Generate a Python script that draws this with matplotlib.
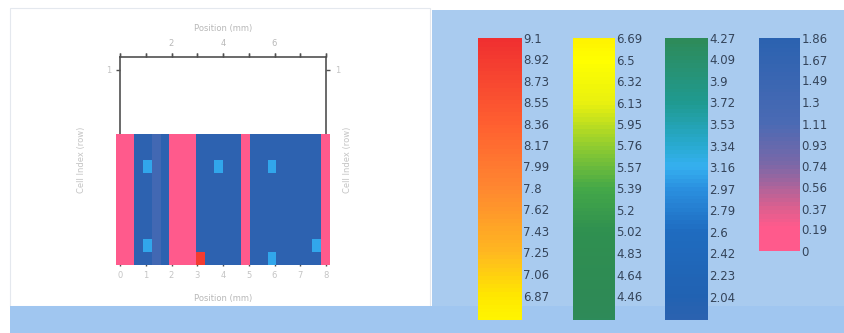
import numpy as np
import matplotlib
matplotlib.use('Agg')
import matplotlib.pyplot as plt
from matplotlib.colors import LinearSegmentedColormap, Normalize
from matplotlib.patches import Rectangle
import matplotlib as mpl

# data ---------------------------------------------------------------
# colour scale stops (value, colour) of the one long palette
scale_vals = [0.0, 0.19, 0.37, 0.74, 1.11, 1.86, 2.04, 2.6, 2.97, 3.16, 3.34,
              3.72, 4.27, 4.46, 5.02, 5.39, 5.76, 6.13, 6.5, 6.87, 7.25, 7.8,
              8.36, 9.1]
scale_cols = ['#ff5a8c', '#ff5a8c', '#d9608f', '#7a68a8', '#4a6ab4', '#2a62b0',
              '#2162b2', '#1f6cc0', '#2a90e0', '#35b0f0', '#28aad0', '#1f9a90',
              '#2e8a58', '#2e8a55', '#2f9050', '#44a848', '#90cc30', '#e8f010',
              '#ffff00', '#ffe800', '#ffb820', '#ff8830', '#ff6030', '#f03030']

# the four colour bars: value range shown and tick labels
bar_ranges = [(6.66, 9.1), (4.25, 6.69), (1.84, 4.27), (0.0, 1.86)]
bar1_ticks = ['9.1', '8.92', '8.73', '8.55', '8.36', '8.17', '7.99', '7.8',
              '7.62', '7.43', '7.25', '7.06', '6.87']
bar2_ticks = ['6.69', '6.5', '6.32', '6.13', '5.95', '5.76', '5.57', '5.39',
              '5.2', '5.02', '4.83', '4.64', '4.46']
bar3_ticks = ['4.27', '4.09', '3.9', '3.72', '3.53', '3.34', '3.16', '2.97',
              '2.79', '2.6', '2.42', '2.23', '2.04']
bar4_ticks = ['1.86', '1.67', '1.49', '1.3', '1.11', '0.93', '0.74', '0.56',
              '0.37', '0.19', '0']

# heat map cells, top row first (codes -> values)
codes = {'P': 0.1, 'B': 1.8, 'D': 1.3, 'L': 3.1, 'R': 8.9}
grid_rows = [
    "PPBBDBPPPBBBBBPBBBBBBBBP",
    "PPBBDBPPPBBBBBPBBBBBBBBP",
    "PPBLDBPPPBBLBBPBBLBBBBBP",
    "PPBBDBPPPBBBBBPBBBBBBBBP",
    "PPBBDBPPPBBBBBPBBBBBBBBP",
    "PPBBDBPPPBBBBBPBBBBBBBBP",
    "PPBBDBPPPBBBBBPBBBBBBBBP",
    "PPBBDBPPPBBBBBPBBBBBBBBP",
    "PPBLDBPPPBBBBBPBBBBBBBLP",
    "PPBBDBPPPRBBBBPBBLBBBBBP",
]
x_ticks = [0, 1, 2, 3, 4, 5, 6, 7, 8]
x_ticklabels = ['0', '1', '2', '3', '4', '5', '6', '7', '8']
top_ticklabels = ['', '', '2', '', '4', '', '6', '', '']

# figure -------------------------------------------------------------
W, H = 844, 333
fig = plt.figure(figsize=(W / 100, H / 100), dpi=100)
fig.patch.set_facecolor('white')

def px(x0, y0, x1, y1):
    # pixel box (top-left origin) -> figure rect
    return [x0 / W, 1 - y1 / H, (x1 - x0) / W, (y1 - y0) / H]

def add_rect(x0, y0, x1, y1, fc, ec='none'):
    r = px(x0, y0, x1, y1)
    fig.patches.append(Rectangle((r[0], r[1]), r[2], r[3], transform=fig.transFigure,
                                 facecolor=fc, edgecolor=ec, lw=0.8, zorder=-10))

# background panels
add_rect(10, 8, 430, 306, 'white', ec='#e4e8ee')
add_rect(432, 10, 844, 312, '#a9cbef')
add_rect(10, 306, 844, 333, '#a0c6f0')

cmap = LinearSegmentedColormap.from_list(
    'pal', [(v / 9.1, c) for v, c in zip(scale_vals, scale_cols)])
norm = Normalize(0, 9.1)

# heat map
grid = np.array([[codes[c] for c in row] for row in grid_rows])
ax = fig.add_axes(px(120, 57, 326, 262))
ax.set_xlim(0, 8)
ax.set_ylim(0, 1.6)
ax.imshow(grid, cmap=cmap, norm=norm, aspect='auto', interpolation='nearest',
          extent=(-0.15, 8.15, -0.02, 1.0), clip_on=False, zorder=3)
for s in ['left', 'right', 'top']:
    ax.spines[s].set_color('#505050')
    ax.spines[s].set_linewidth(1.2)
ax.spines['bottom'].set_visible(False)
ax.set_xticks(x_ticks)
ax.set_xticklabels(x_ticklabels)
ax.set_yticks([1.5])
ax.set_yticklabels(['1'])
ax.tick_params(axis='both', colors='#505050', labelcolor='#c4c4c4', labelsize=6,
               direction='out', length=3, width=1,
               top=True, right=True, labelright=True)
tx = ax.secondary_xaxis('top')
tx.set_xticks(x_ticks)
tx.set_xticklabels(top_ticklabels)
tx.tick_params(colors='#505050', labelcolor='#b8b8b8', labelsize=6, length=3, width=1)
tx.spines['top'].set_visible(False)
tx.set_xlabel('Position (mm)', fontsize=6, color='#b8b8b8', labelpad=6)
ax.set_xlabel('Position (mm)', fontsize=6, color='#b8b8b8', labelpad=10)
ax.set_ylabel('Cell Index (row)', fontsize=6, color='#c4c4c4', labelpad=14)
ry = ax.secondary_yaxis('right')
ry.set_yticks([])
ry.spines['right'].set_visible(False)
ry.set_ylabel('Cell Index (row)', fontsize=6, color='#c4c4c4', labelpad=12)

# colour bars: each shows one slice of the same palette
bar_boxes = [(478, 38, 522, 320), (573, 38, 615, 320), (665, 38, 708, 320),
             (759, 38, 800, 251)]
bar_labels = [bar1_ticks, bar2_ticks, bar3_ticks, bar4_ticks]
for (lo, hi), box, labels in zip(bar_ranges, bar_boxes, bar_labels):
    cax = fig.add_axes(px(*box))
    part = LinearSegmentedColormap.from_list(
        'part', cmap(np.linspace(lo / 9.1, hi / 9.1, 256)))
    cb = mpl.colorbar.ColorbarBase(cax, cmap=part, norm=Normalize(lo, hi),
                                   orientation='vertical')
    cb.outline.set_visible(False)
    vals = [float(t) for t in labels]
    cb.set_ticks(vals)
    cb.set_ticklabels(labels)
    cax.tick_params(length=0, pad=1, labelsize=8.5, labelcolor='#34445a')
    for t in cax.get_yticklabels():
        t.set_family(['Liberation Sans Narrow', 'DejaVu Sans'])

fig.savefig('out.png', dpi=100)
